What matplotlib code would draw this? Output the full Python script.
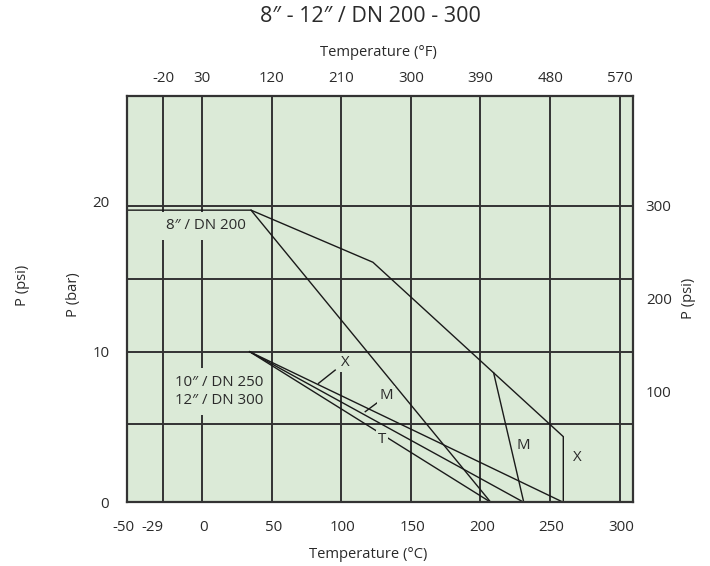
import matplotlib
matplotlib.use("Agg")
import matplotlib.pyplot as plt

plt.rcParams['font.family'] = ['Open Sans', 'DejaVu Sans']
plt.rcParams['axes.unicode_minus'] = False

# ---- data ----
temp_F_ticks = [-20, 30, 120, 210, 300, 390, 480, 570]
temp_C_ticks = [-50, -29, 0, 50, 100, 150, 200, 250, 300]
bar_ticks = [0, 10, 20]
psi_ticks = [100, 200, 300]
grid_bar = [5.2, 10, 14.85, 19.7]

# 8" / DN 200 curves (temperature degC, pressure bar)
dn200_X_T = [-55, 34, 121.6, 258.4, 258.4]
dn200_X_P = [19.4, 19.4, 15.94, 4.36, 0]
dn200_T_T = [34, 206.3]
dn200_T_P = [19.4, 0]
dn200_M_T = [208.3, 230]
dn200_M_P = [8.61, 0]

# 10" / DN 250 and 12" / DN 300 curves
dn250_X_T = [33, 258.4]
dn250_X_P = [10, 0]
dn250_M_T = [33, 230]
dn250_M_P = [10, 0]
dn250_T_T = [33, 206.3]
dn250_T_P = [10, 0]

# leader lines for the seat labels
lead_X_T = [82.5, 94.5]
lead_X_P = [7.90, 8.78]
lead_M_T = [116.1, 125.7]
lead_M_P = [6.02, 6.68]

BG = '#dbead7'
GRID = '#333333'
LINE = '#1a1a1a'
TXT = '#2a2a2a'

fig = plt.figure(figsize=(7.1, 5.66), dpi=100)
ax = fig.add_axes([127.3 / 710, 1 - 502.3 / 566, (633.3 - 127.3) / 710, (502.3 - 95.7) / 566])
ax.set_facecolor(BG)
ax.set_xlim(-54.9, 308.7)
ax.set_ylim(0, 27.0)

# grid lines
for f in temp_F_ticks:
    ax.axvline((f - 32) / 1.8, color=GRID, lw=1.4, zorder=1)
for b in grid_bar:
    ax.axhline(b, color=GRID, lw=1.4, zorder=1)

for s in ax.spines.values():
    s.set_color(GRID)
    s.set_linewidth(1.6)
    s.set_zorder(5)

# curves
kw = dict(color=LINE, lw=1.0, zorder=3, solid_joinstyle='miter')
ax.plot(dn200_X_T, dn200_X_P, **kw)
ax.plot(dn200_T_T, dn200_T_P, **kw)
ax.plot(dn200_M_T, dn200_M_P, **kw)
ax.plot(dn250_X_T, dn250_X_P, **kw)
ax.plot(dn250_M_T, dn250_M_P, **kw)
ax.plot(dn250_T_T, dn250_T_P, **kw)
ax.plot(lead_X_T, lead_X_P, **kw)
ax.plot(lead_M_T, lead_M_P, **kw)

FS = 10.8

# size labels (boxes hide grid lines behind them)
ax.text(1.7, 18.35, '8″ / DN 200', ha='center', va='center', fontsize=FS, color=TXT,
        zorder=2, bbox=dict(boxstyle='square,pad=0.45', fc=BG, ec='none'))
ax.text(10.8, 7.34, '10″ / DN 250\n12″ / DN 300', ha='center', va='center', fontsize=FS,
        color=TXT, linespacing=1.3, zorder=2,
        bbox=dict(boxstyle='square,pad=0.45', fc=BG, ec='none'))

# seat labels
lab_kw = dict(ha='center', va='center', fontsize=FS, color=TXT, zorder=4,
              bbox=dict(boxstyle='square,pad=0.15', fc=BG, ec='none'))
ax.text(101.7, 9.27, 'X', **lab_kw)
ax.text(131.2, 7.07, 'M', **lab_kw)
ax.text(128.1, 4.18, 'T', **lab_kw)
ax.text(229.4, 3.74, 'M', **lab_kw)
ax.text(268.2, 2.96, 'X', **lab_kw)

# bottom axis (degC)
ax.set_xticks(temp_C_ticks)
ax.set_xticklabels([str(v) for v in temp_C_ticks])
ax.tick_params(axis='x', length=0, pad=13, labelsize=FS, labelcolor=TXT)
for lbl in ax.get_xticklabels()[:2]:
    lbl.set_ha('right')

# left axis (bar)
ax.set_yticks(bar_ticks)
ax.tick_params(axis='y', length=0, pad=13, labelsize=FS, labelcolor=TXT)

# top axis (degF)
top = ax.secondary_xaxis('top', functions=(lambda c: c * 1.8 + 32, lambda f: (f - 32) / 1.8))
top.set_xticks(temp_F_ticks)
top.tick_params(length=0, pad=7, labelsize=FS, labelcolor=TXT)
top.spines['top'].set_visible(False)

# right axis (psi)
rax = ax.twinx()
rax.set_ylim(-18.4, 417.1)
rax.set_yticks(psi_ticks)
rax.tick_params(axis='y', length=0, pad=9, labelsize=FS, labelcolor=TXT)
for s in rax.spines.values():
    s.set_visible(False)

# titles and axis labels
fig.text(370 / 710, 1 - 17 / 566, '8″ - 12″ / DN 200 - 300', ha='center', va='center',
         fontsize=15.5, color=TXT)
fig.text(378 / 710, 1 - 53 / 566, 'Temperature (°F)', ha='center', va='center',
         fontsize=10.6, color=TXT)
fig.text(368 / 710, 1 - 554 / 566, 'Temperature (°C)', ha='center', va='center',
         fontsize=10.6, color=TXT)
fig.text(22.7 / 710, 1 - 285 / 566, 'P (psi)', rotation=90, ha='center', va='center',
         fontsize=10.6, color=TXT)
fig.text(74 / 710, 1 - 295 / 566, 'P (bar)', rotation=90, ha='center', va='center',
         fontsize=10.6, color=TXT)
fig.text(688 / 710, 1 - 298 / 566, 'P (psi)', rotation=90, ha='center', va='center',
         fontsize=10.6, color=TXT)

fig.savefig('out.png', dpi=100, facecolor='white')
